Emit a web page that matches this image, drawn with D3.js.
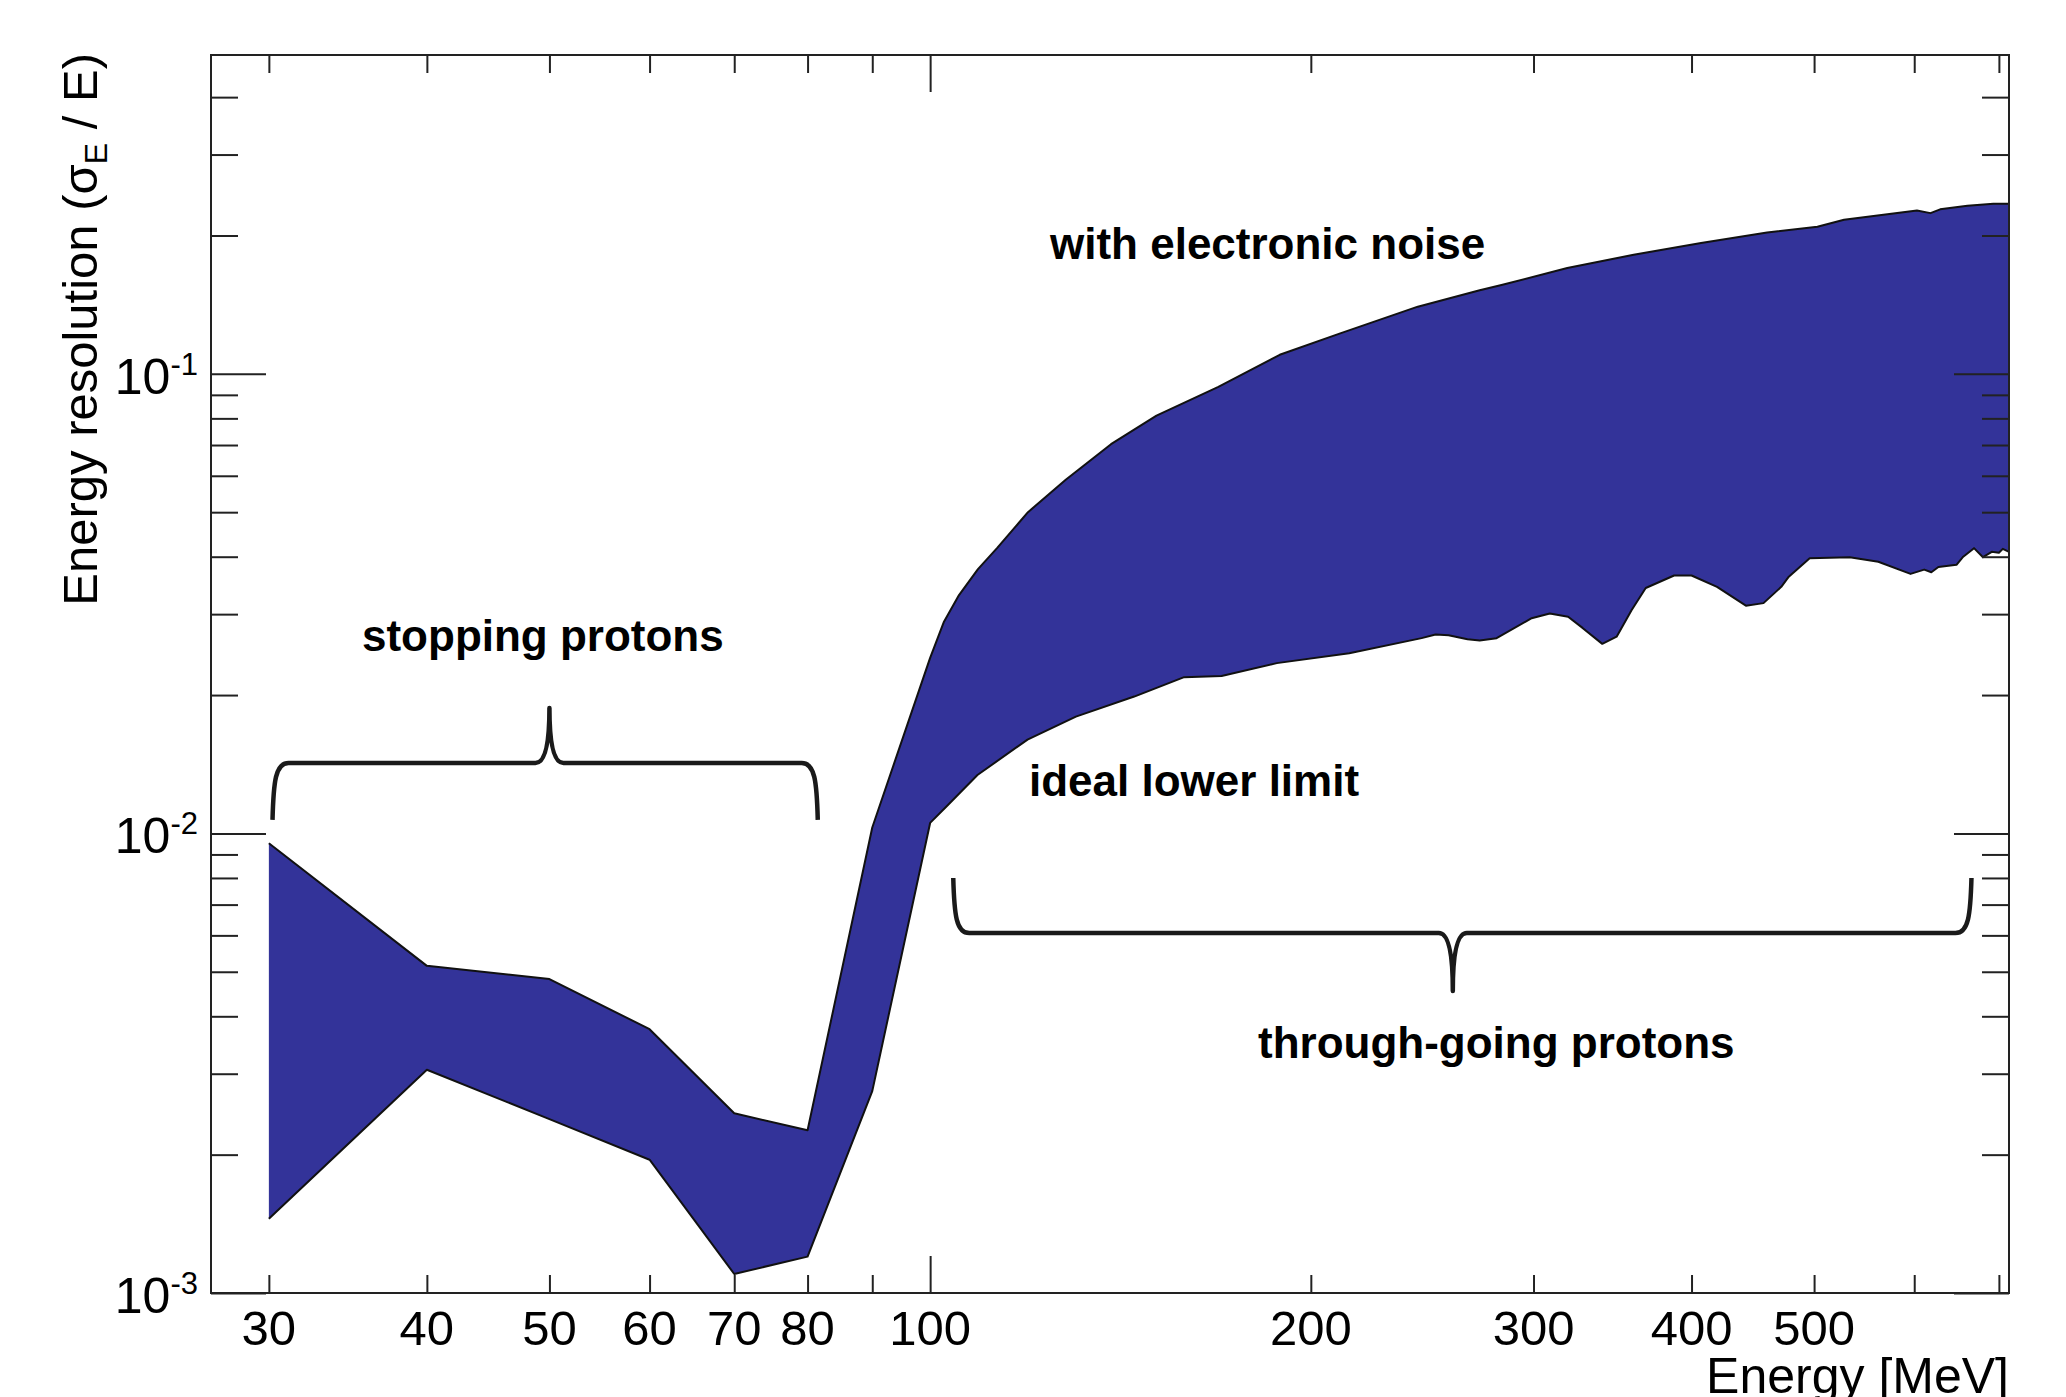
<!DOCTYPE html>
<html>
<head>
<meta charset="utf-8">
<script src="https://cdn.jsdelivr.net/npm/d3@7"></script>
<style>
  html, body { margin: 0; padding: 0; background: #fff; }
  svg { display: block; }
  text { font-family: "Liberation Sans", Arial, Helvetica, sans-serif; }
</style>
</head>
<body>
<svg id="chart" width="2066" height="1397"></svg>
<script>
// ---- data ----
const upperE = [30,40,50,60,70,80,90,100,102.5,105.4,109.1,113,119.5,128,139,151,169,
  189,211,243,272,283,319,360,407,459,503,528,603,618,629,661,693,713];
const upperRes = [0.00952,0.00515,0.00482,0.00375,0.00246,0.00226,0.0103,0.0241,
  0.0288,0.0330,0.0376,0.0418,0.0500,0.0588,0.0703,0.0811,0.0937,
  0.110,0.1225,0.140,0.152,0.156,0.170,0.1816,0.1925,0.203,
  0.209,0.2163,0.2266,0.2237,0.228,0.232,0.2344,0.2344];

const lowerE = [30,40,50,60,70,80,90,100,103.2,109,119.4,130.4,145,158.8,170,188,214.5,
  244.7,251,257,266,272,280.5,299,309,319.5,328,340,349,358.6,368,387.5,400,419,441.6,
  456,471,477.5,496,533.5,562,596,611,619,627,648,656,669,680,691,700,705,713];
const lowerRes = [0.00145,0.00306,0.00239,0.00195,0.00110,0.00120,0.00275,0.01054,
  0.0115,0.0134,0.0160,0.01795,0.01985,0.02188,0.0220,0.02347,0.02466,
  0.0266,0.0271,0.0270,0.02646,0.0263,0.0266,0.0294,0.0301,0.0296,
  0.0280,0.02585,0.0268,0.0306,0.0342,0.0364,0.0364,0.0344,0.0313,
  0.0317,0.0344,0.0362,0.0397,0.0399,0.0390,0.0367,0.0375,0.0370,
  0.0380,0.0384,0.0400,0.04175,0.0399,0.0410,0.0408,0.0416,0.0410];

const xDomain = [27, 713];
const yDomain = [1e-3, 0.494];
const xTicks = [30,40,50,60,70,80,90,100,200,300,400,500,600,700];
const xMajorTicks = [100];
const xTickLabels = [30,40,50,60,70,80,100,200,300,400,500];
const yMajorTicks = [1e-3, 1e-2, 1e-1];
const yMajorExp = ["-3", "-2", "-1"];
const yMinorTicks = [2e-3,3e-3,4e-3,5e-3,6e-3,7e-3,8e-3,9e-3,
  2e-2,3e-2,4e-2,5e-2,6e-2,7e-2,8e-2,9e-2,0.2,0.3,0.4];

// brace annotations in data coordinates: [E_left, E_centre, E_right, res_tip, res_line, res_cusp]
const braceStopping = [30.2, 50, 81.5, 0.0107, 0.01423, 0.01875];
const braceThrough  = [104.3, 259, 665.9, 0.0080, 0.00607, 0.00454];

// ---- layout ----
const L = 211, R = 2009, T = 55, B = 1293;
const svg = d3.select("#chart");
svg.append("rect").attr("width", 2066).attr("height", 1397).attr("fill", "#fff");

const x = d3.scaleLog().domain(xDomain).range([L, R]);
const y = d3.scaleLog().domain(yDomain).range([B, T]);

// ---- band ----
const upperPts = upperE.map((e, i) => [e, upperRes[i]]);
const lowerPts = lowerE.map((e, i) => [e, lowerRes[i]]);
const line = d3.line().x(d => x(d[0])).y(d => y(d[1]));
const poly = upperPts.concat(lowerPts.slice().reverse());

svg.append("path")
  .attr("d", line(poly) + "Z")
  .attr("fill", "#333399")
  .attr("stroke", "none");
[upperPts, lowerPts].forEach(pts => {
  svg.append("path")
    .attr("d", line(pts))
    .attr("fill", "none")
    .attr("stroke", "#111")
    .attr("stroke-width", 2)
    .attr("stroke-linejoin", "round");
});

// ---- axes ----
const axisColor = "#222";
function styleAxis(g) {
  g.select(".domain").remove();
  g.selectAll(".tick line").attr("stroke", axisColor).attr("stroke-width", 2);
  g.selectAll(".tick text").remove();
}
const shortX = 18, longX = 37, shortY = 27, longY = 55;

const xb = svg.append("g").attr("transform", `translate(0,${B})`)
  .call(d3.axisBottom(x).tickValues(xTicks).tickSizeOuter(0).tickSizeInner(-shortX));
styleAxis(xb);
xb.selectAll(".tick line").attr("y2", d => xMajorTicks.includes(d) ? -longX : -shortX);

const xt = svg.append("g").attr("transform", `translate(0,${T})`)
  .call(d3.axisTop(x).tickValues(xTicks).tickSizeOuter(0).tickSizeInner(-shortX));
styleAxis(xt);
xt.selectAll(".tick line").attr("y2", d => xMajorTicks.includes(d) ? longX : shortX);

const yAll = yMajorTicks.concat(yMinorTicks);
const yl = svg.append("g").attr("transform", `translate(${L},0)`)
  .call(d3.axisLeft(y).tickValues(yAll).tickSizeOuter(0).tickSizeInner(-shortY));
styleAxis(yl);
yl.selectAll(".tick line").attr("x2", d => yMajorTicks.includes(d) ? longY : shortY);

const yr = svg.append("g").attr("transform", `translate(${R},0)`)
  .call(d3.axisRight(y).tickValues(yAll).tickSizeOuter(0).tickSizeInner(-shortY));
styleAxis(yr);
yr.selectAll(".tick line").attr("x2", d => yMajorTicks.includes(d) ? -longY : -shortY);

// frame
svg.append("rect")
  .attr("x", L).attr("y", T).attr("width", R - L).attr("height", B - T)
  .attr("fill", "none").attr("stroke", axisColor).attr("stroke-width", 2);

// x tick labels
svg.append("g").selectAll("text").data(xTickLabels).join("text")
  .attr("x", d => x(d)).attr("y", B + 52)
  .attr("text-anchor", "middle")
  .attr("font-size", 49).attr("fill", "#000")
  .text(d => d);

// y tick labels with superscript exponent
yMajorTicks.forEach((v, i) => {
  const t = svg.append("text")
    .attr("x", 198).attr("y", y(v) + 20)
    .attr("text-anchor", "end")
    .attr("font-size", 50).attr("fill", "#000");
  t.append("tspan").text("10");
  t.append("tspan").attr("dy", -19).attr("font-size", 31).text(yMajorExp[i]);
});

// axis titles
svg.append("text")
  .attr("x", R).attr("y", 1393)
  .attr("text-anchor", "end")
  .attr("font-size", 50).attr("fill", "#000")
  .text("Energy [MeV]");

const yt = svg.append("text")
  .attr("transform", `translate(97,${T - 2}) rotate(-90)`)
  .attr("text-anchor", "end")
  .attr("font-size", 49).attr("fill", "#000");
yt.append("tspan").text("Energy resolution (σ");
yt.append("tspan").attr("font-size", 32).attr("dy", 10).text("E");
yt.append("tspan").attr("dy", -10).text(" / E)");

// ---- annotations ----
const ann = [
  {t: "with electronic noise", x: 1050, y: 259},
  {t: "stopping protons", x: 362, y: 651},
  {t: "ideal lower limit", x: 1029, y: 796},
  {t: "through-going protons", x: 1258, y: 1058}
];
svg.append("g").selectAll("text").data(ann).join("text")
  .attr("x", d => d.x).attr("y", d => d.y)
  .attr("font-size", 44).attr("font-weight", "bold").attr("fill", "#000")
  .text(d => d.t);

function bracePath(b) {
  const x0 = x(b[0]), xc = x(b[1]), x1 = x(b[2]);
  const yTip = y(b[3]), yL = y(b[4]), yC = y(b[5]);
  const s = Math.sign(yTip - yL);   // direction of tips relative to line
  const r = 16, rc = 14;
  const p = d3.path();
  p.moveTo(x0, yTip);
  p.bezierCurveTo(x0 + 1, yL + s * 18, x0 + 3, yL, x0 + r, yL);
  p.lineTo(xc - rc, yL);
  p.quadraticCurveTo(xc, yL, xc, yC);
  p.quadraticCurveTo(xc, yL, xc + rc, yL);
  p.lineTo(x1 - r, yL);
  p.bezierCurveTo(x1 - 3, yL, x1 - 1, yL + s * 18, x1, yTip);
  return p.toString();
}
[braceStopping, braceThrough].forEach(b => {
  svg.append("path")
    .attr("d", bracePath(b))
    .attr("fill", "none")
    .attr("stroke", "#1a1a1a")
    .attr("stroke-width", 4.5)
    .attr("stroke-linejoin", "round")
    .attr("stroke-linecap", "butt");
});
</script>
</body>
</html>
